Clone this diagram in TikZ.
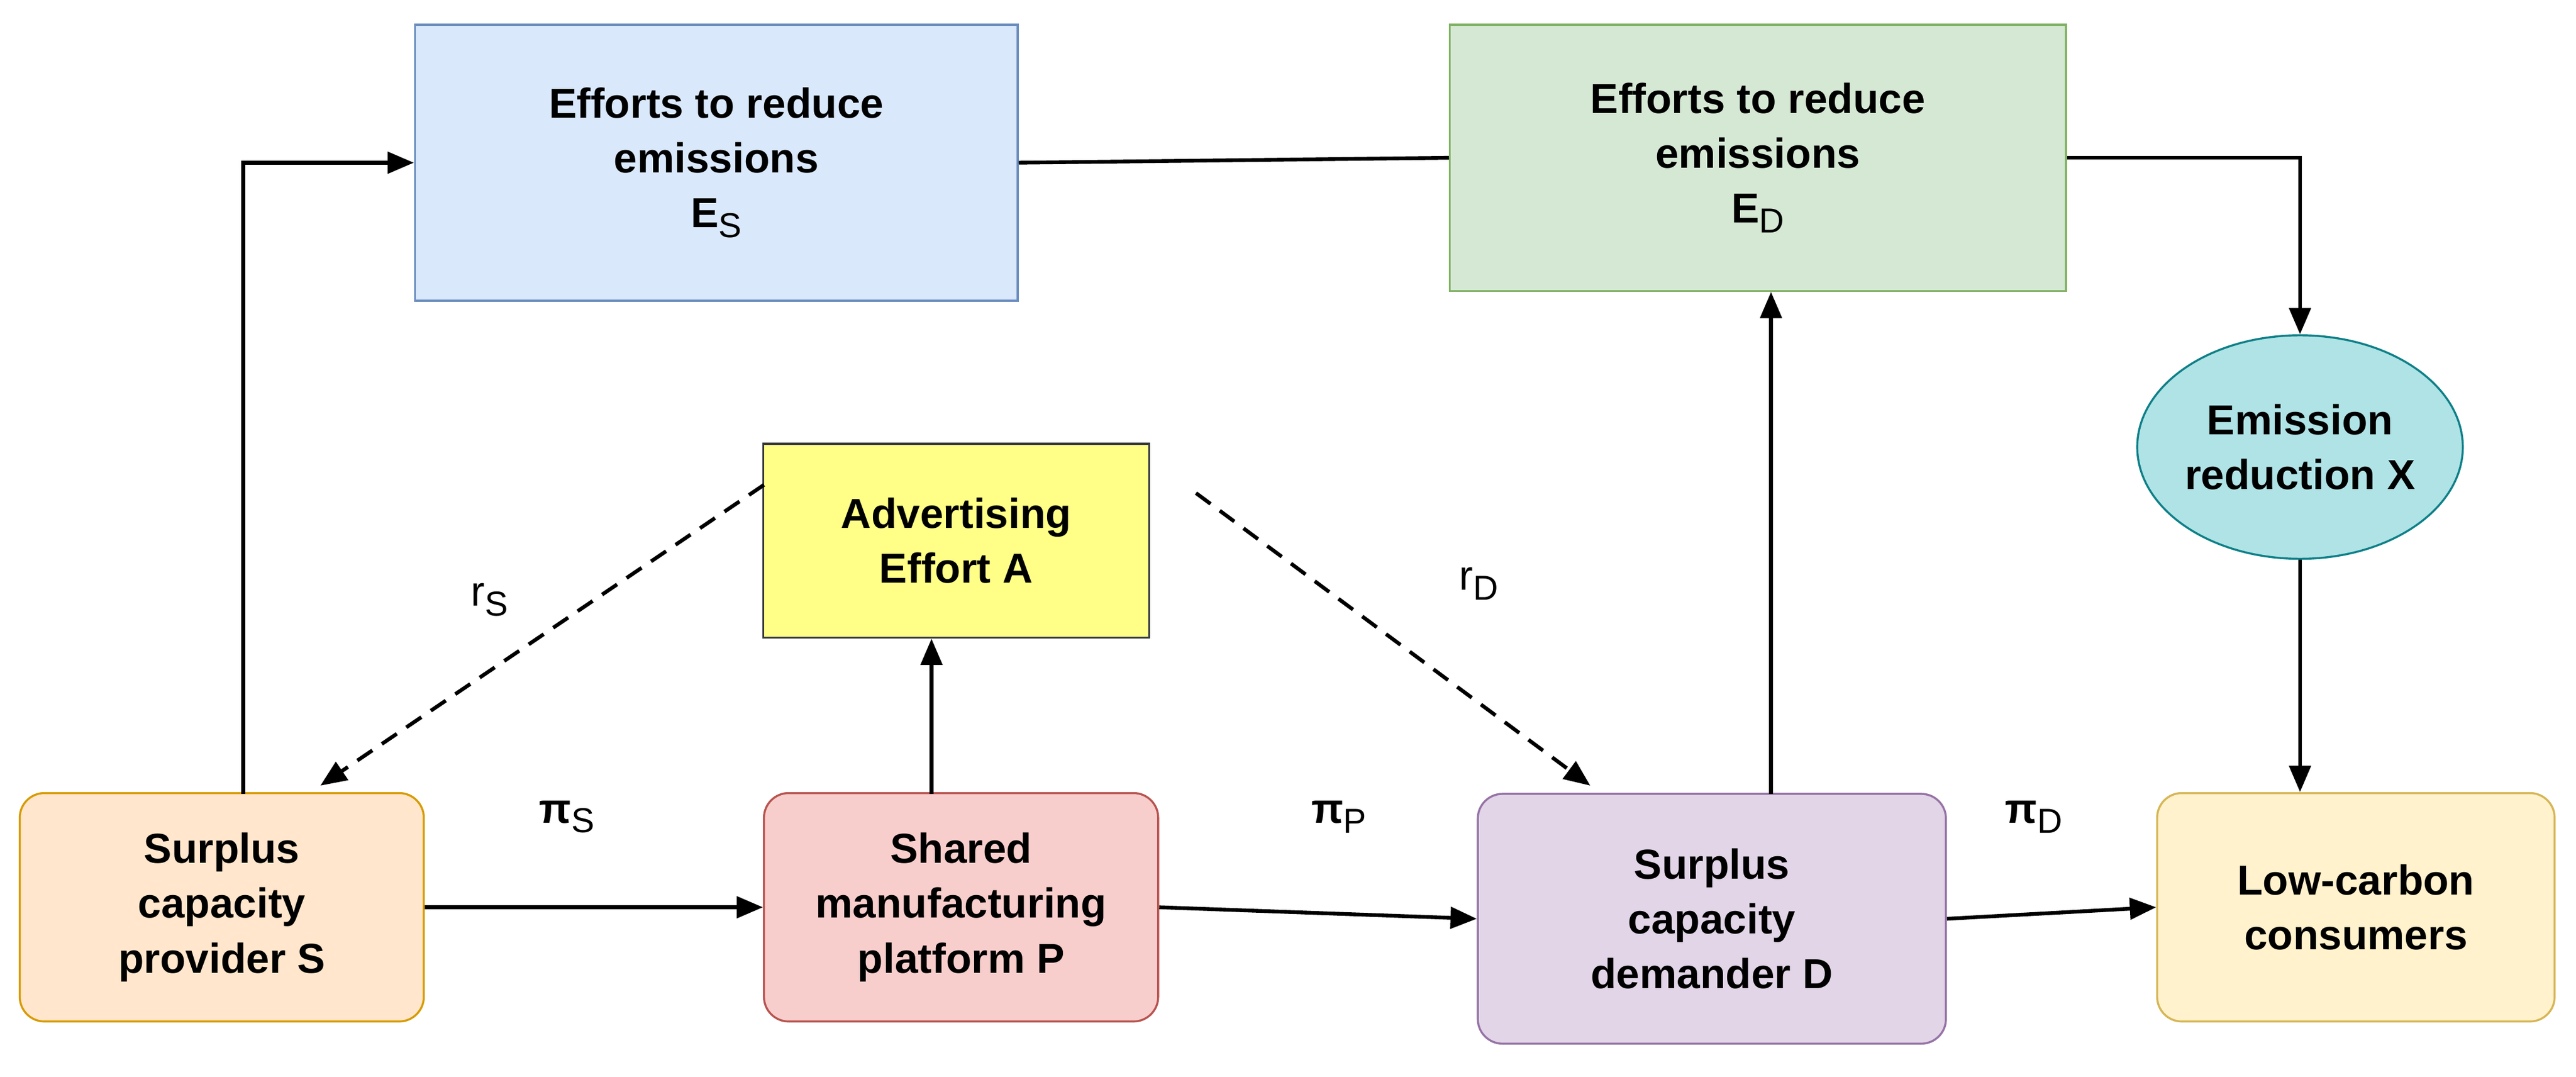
\documentclass[tikz,border=0pt]{standalone}
\usepackage{fontspec}
\setmainfont{Liberation Sans}
\usetikzlibrary{arrows.meta,shapes.geometric}
\newcommand{\sbx}[1]{\raisebox{-0.45ex}{\mdseries\fontsize{12}{12}\selectfont #1}}
\definecolor{bF}{HTML}{DAE8FC}\definecolor{bS}{HTML}{6C8EBF}
\definecolor{gF}{HTML}{D5E8D4}\definecolor{gS}{HTML}{82B366}
\definecolor{cF}{HTML}{B0E3E6}\definecolor{cS}{HTML}{0E8088}
\definecolor{yF}{HTML}{FFFF88}\definecolor{yS}{HTML}{36393D}
\definecolor{oF}{HTML}{FFE6CC}\definecolor{oS}{HTML}{D79B00}
\definecolor{rF}{HTML}{F8CECC}\definecolor{rS}{HTML}{B85450}
\definecolor{pF}{HTML}{E1D5E7}\definecolor{pS}{HTML}{9673A6}
\definecolor{lF}{HTML}{FFF2CC}\definecolor{lS}{HTML}{D6B656}
\begin{document}
\begin{tikzpicture}[x=0.02cm,y=-0.02cm,
  box/.style={draw,line width=0.7pt,align=center,font=\fontsize{14.5}{19}\selectfont\bfseries,inner sep=2pt},
  rbox/.style={box,rounded corners=0.3cm},
  arr/.style={line width=1.3pt,-{Triangle[length=0.32cm,width=0.26cm]}},
  ln/.style={line width=1.3pt},
  dsh/.style={line width=1.3pt,dash pattern=on 0.22cm off 0.14cm,-{Triangle[length=0.32cm,width=0.26cm]}},
  lab/.style={font=\fontsize{14.5}{17}\selectfont}]
\useasboundingbox (0,0) rectangle (1568,655);
\node[box,fill=bF,draw=bS,minimum width=7.34cm,minimum height=3.36cm] (ES) at (436,99) {Efforts to reduce\\emissions\\E\sbx{S}};
\node[box,fill=gF,draw=gS,minimum width=7.5cm,minimum height=3.24cm] (ED) at (1070,96) {Efforts to reduce\\emissions\\E\sbx{D}};
\node[box,ellipse,fill=cF,draw=cS,minimum width=2.9cm,minimum height=2.72cm,inner sep=0pt] (X) at (1400,272) {Emission\\reduction X};
\node[box,fill=yF,draw=yS,minimum width=4.7cm,minimum height=2.36cm] (A) at (582,329) {Advertising\\Effort A};
\node[rbox,fill=oF,draw=oS,minimum width=4.92cm,minimum height=2.78cm] (S) at (135,552) {Surplus\\capacity\\provider S};
\node[rbox,fill=rF,draw=rS,minimum width=4.8cm,minimum height=2.78cm] (P) at (585,552) {Shared\\manufacturing\\platform P};
\node[rbox,fill=pF,draw=pS,minimum width=5.7cm,minimum height=3.04cm] (D) at (1042,559) {Surplus\\capacity\\demander D};
\node[rbox,fill=lF,draw=lS,minimum width=4.84cm,minimum height=2.78cm] (L) at (1434,552) {Low-carbon\\consumers};
\coordinate (s1) at (148,483);
\coordinate (d1) at (1078,483);
\coordinate (p1) at (567,483);
\coordinate (a1) at (465,295);
\coordinate (a2) at (728,300);
\coordinate (s2) at (195,478);
\coordinate (d2) at (968,478);
\draw[arr] (s1) |- (ES.west);
\draw[ln] (ES.east) -- (ED.west);
\draw[arr] (ED.east) -| (X.north);
\draw[arr] (X.south) -- (X.south |- L.north);
\draw[arr] (d1) -- (d1 |- ED.south);
\draw[arr] (p1) -- (p1 |- A.south);
\draw[dsh] (a1) -- (s2);
\draw[dsh] (a2) -- (d2);
\draw[arr] (S.east) -- (P.west);
\draw[arr] (P.east) -- (D.west);
\draw[arr] (D.east) -- (L.west);
\node[lab] (rs) at (298,365) {r\sbx{S}};
\node[lab] (rd) at (900,355) {r\sbx{D}};
\node[lab] (ps) at (345,497) {\textbf{π}\sbx{S}};
\node[lab] (pp) at (815,497) {\textbf{π}\sbx{P}};
\node[lab] (pd) at (1238,497) {\textbf{π}\sbx{D}};
\end{tikzpicture}
\end{document}
